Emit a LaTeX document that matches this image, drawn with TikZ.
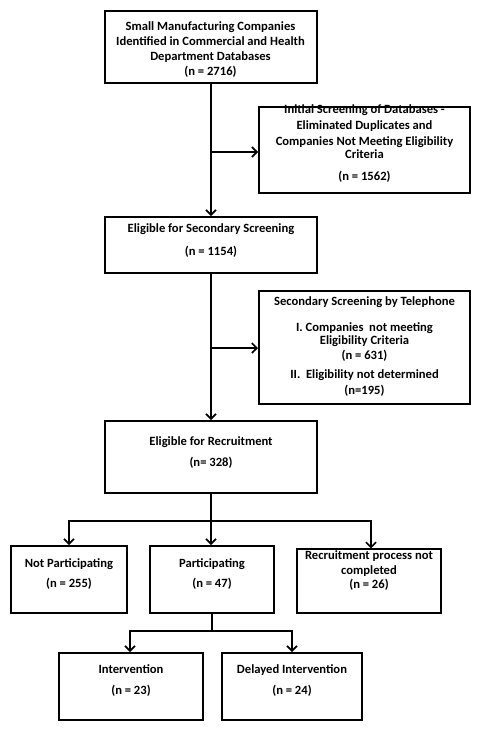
\documentclass[tikz,border=0pt]{standalone}
\usepackage{fontspec}
\setmainfont{Carlito}
\usetikzlibrary{arrows.meta}
\setlength{\lineskiplimit}{-100pt}
\begin{document}
\begin{tikzpicture}[x=1pt,y=-1pt,
  box/.style={draw=black,line width=2pt,rectangle,inner sep=0pt,fill=white},
  lbl/.style={font=\bfseries\fontsize{12.6}{13}\selectfont,align=center,inner sep=0pt},
  arr/.style={line width=2pt,-{Straight Barb[length=5pt,width=10pt,line width=1.6pt]}},
  ln/.style={line width=2pt}]
\useasboundingbox[fill=white] (0,0) rectangle (480,731);
% boxes
\node[box,minimum width=212pt,minimum height=72pt] (b1) at (211,47) {};
\node[box,minimum width=211pt,minimum height=86pt] (b2) at (364.5,150) {};
\node[box,minimum width=212pt,minimum height=56pt] (b3) at (211,245) {};
\node[box,minimum width=211pt,minimum height=113pt] (b4) at (364.5,347.5) {};
\node[box,minimum width=212pt,minimum height=72pt] (b5) at (211,457) {};
\node[box,minimum width=116pt,minimum height=67pt] (np) at (69,579.5) {};
\node[box,minimum width=124pt,minimum height=67pt] (p) at (212,579.5) {};
\node[box,minimum width=144pt,minimum height=64pt,line width=1.4pt] (r) at (369,581) {};
\node[box,minimum width=144pt,minimum height=67pt] (i) at (131,686.5) {};
\node[box,minimum width=140pt,minimum height=67pt] (di) at (292,686.5) {};
% texts
\node[lbl] (t1) at (210.5,50) {Small Manufacturing Companies\\[2pt]Identified in Commercial and Health\\[2pt]Department Databases\\[2pt](n = 2716)};
\node[lbl] (t2) at (364.5,144) {Initial Screening of Databases -\\[3pt]Eliminated Duplicates and\\[3pt]Companies Not Meeting Eligibility\\Criteria\\[9pt](n = 1562)};
\node[lbl] (t3) at (211,241) {Eligible for Secondary Screening\\[10pt](n = 1154)};
\node[lbl] (t4) at (364.5,346.5) {Secondary Screening by Telephone\\[13pt]I. Companies\ \ not meeting\\[-0.5pt]Eligibility Criteria\\[2pt](n = 631)\\[6pt]II.\ \ Eligibility not determined\\[3pt](n=195)};
\node[lbl] (t5) at (211,452.5) {Eligible for Recruitment\\[8pt](n= 328)};
\node[lbl] (tnp) at (69,574) {Not Participating\\[7pt](n = 255)};
\node[lbl] (tp) at (212,574) {Participating\\[7pt](n = 47)};
\node[lbl] (tr) at (369,571) {Recruitment process not\\[2pt]completed\\[1pt](n = 26)};
\node[lbl] (ti) at (131,681) {Intervention\\[8pt](n = 23)};
\node[lbl] (tdi) at (292,681) {Delayed Intervention\\[8pt](n = 24)};
% connectors
\draw[arr] (b1.south) -- (b1.south |- b3.north);
\coordinate (j1) at (b1.south |- 0,152);
\draw[arr] (j1) -- (j1 -| b2.west);
\draw[arr] (b3.south) -- (b3.south |- b5.north);
\coordinate (j2) at (b3.south |- 0,348);
\draw[arr] (j2) -- (j2 -| b4.west);
\coordinate (j3) at (b5.south |- 0,521);
\draw[ln] (b5.south) -- (j3);
\draw[arr] (j3) -- (j3 |- p.north);
\draw[arr] (j3) -| (np.north);
\draw[arr] (j3) -| ([xshift=2pt]r.north);
\coordinate (j4) at (p.south |- 0,631);
\draw[ln] (p.south) -- (j4);
\draw[arr] (j4) -| ([xshift=-1pt]i.north);
\draw[arr] (j4) -| (di.north);
\end{tikzpicture}
\end{document}
